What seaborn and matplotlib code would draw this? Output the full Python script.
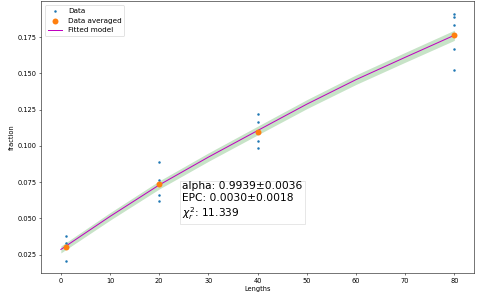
import matplotlib
matplotlib.use('Agg')
import matplotlib.pyplot as plt
import pandas as pd
import seaborn as sns

# raw points per sequence length (5 seeds each)
lengths = [1, 20, 40, 80]
seed_1 = [0.0381, 0.0333, 0.0301, 0.0293, 0.0208]
seed_20 = [0.0891, 0.0761, 0.0741, 0.0658, 0.0619]
seed_40 = [0.1219, 0.1166, 0.1088, 0.1031, 0.0986]
seed_80 = [0.1910, 0.1887, 0.1834, 0.1670, 0.1523]
averaged = [0.0303, 0.0734, 0.1098, 0.1766]

# fitted curve, with the error band half-width
fit_x = [0, 10, 20, 30, 40, 50, 60, 70, 80]
fit_y = [0.0285, 0.0513, 0.0730, 0.0922, 0.1105, 0.1287, 0.1456, 0.1610, 0.1762]
fit_err = [0.0024, 0.0026, 0.0028, 0.0029, 0.0030, 0.0031, 0.0033, 0.0034, 0.0035]

fit_text = 'alpha: 0.9939±0.0036\nEPC: 0.0030±0.0018\n$\\chi_r^2$: 11.339'

raw = pd.DataFrame({
    'length': [l for l, s in zip(lengths, [seed_1, seed_20, seed_40, seed_80]) for _ in s],
    'fraction': seed_1 + seed_20 + seed_40 + seed_80,
})
avg = pd.DataFrame({'length': lengths, 'fraction': averaged})
fit = pd.DataFrame({'length': fit_x, 'fraction': fit_y, 'err': fit_err})

fig, ax = plt.subplots(figsize=(479 / 48, 298 / 48), dpi=48)
fig.subplots_adjust(left=0.086, right=0.9896, bottom=0.084, top=0.995)

sns.scatterplot(data=raw, x='length', y='fraction', ax=ax, color='C0', s=14,
                linewidth=0, label='Data', zorder=3)
ax.fill_between(fit['length'], fit['fraction'] - fit['err'], fit['fraction'] + fit['err'],
                color='green', alpha=0.22, linewidth=0, zorder=1)
sns.lineplot(data=fit, x='length', y='fraction', ax=ax, color='m', linewidth=1.5,
             label='Fitted model', zorder=2)
sns.scatterplot(data=avg, x='length', y='fraction', ax=ax, color='C1', s=80,
                linewidth=0, label='Data averaged', zorder=4)

handles, labels = ax.get_legend_handles_labels()
order = [labels.index('Data'), labels.index('Data averaged'), labels.index('Fitted model')]
ax.legend([handles[i] for i in order], [labels[i] for i in order], loc='upper left',
          fontsize=10.8)

ax.text(24.7, 0.0617, fit_text, fontsize=16, ha='left', va='center',
        bbox=dict(facecolor='white', edgecolor='lightgray', alpha=0.8))

ax.set_xlabel('Lengths')
ax.set_ylabel('fraction')
ax.set_xticks(range(0, 81, 10))
ax.set_yticks([0.025, 0.05, 0.075, 0.1, 0.125, 0.15, 0.175])

fig.savefig('out.png', dpi=48)
